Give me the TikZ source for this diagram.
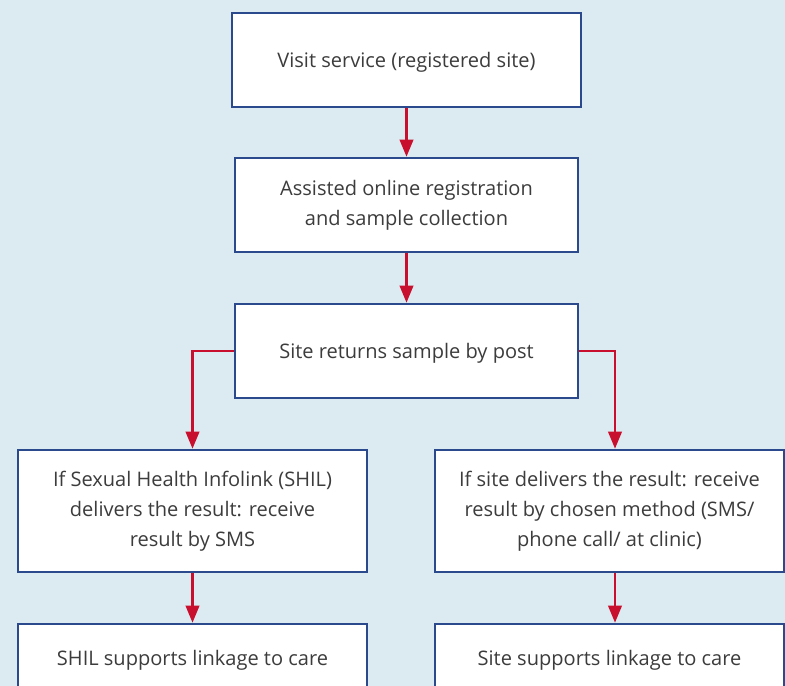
\documentclass[tikz,border=0pt]{standalone}
\usepackage{fontspec}
\setmainfont{Open Sans}
\usetikzlibrary{arrows.meta}

\definecolor{sfondo}{HTML}{DCEAF2}
\definecolor{bordo}{HTML}{2B4A8E}
\definecolor{freccia}{HTML}{C8102E}
\definecolor{testo}{HTML}{3C3C3C}

\tikzset{
  passo/.style={draw=bordo, line width=1.5pt, fill=white, text=testo,
    minimum width=6.98cm, minimum height=1.88cm, align=center,
    font=\fontsize{11.4}{17}\selectfont, inner sep=0pt},
  riga/.style={text height=11.6pt, text depth=3pt},
  freccia/.style={draw=freccia, line width=1.3pt,
    -{Triangle[width=0.27cm,length=0.34cm]}}
}

\begin{document}
\begin{tikzpicture}

        % Sfondo
        \useasboundingbox (0, 0) rectangle (15.7, -13.72);
        \clip (0, 0) rectangle (15.7, -13.72);
        \fill[sfondo] (0, 0) rectangle (15.7, -13.72);

        % Box centrali
        \node[passo, riga] (visit) at (8.13, -1.20) {Visit service (registered site)};
        \node[passo, minimum width=6.86cm] (assist) at (8.13, -4.10) {Assisted online registration\\and sample collection};
        \node[passo, riga, minimum width=6.86cm] (returns) at (8.13, -7.02) {Site returns sample by post};

        % Box risultati
        \node[passo, minimum height=2.44cm] (shil) at (3.85, -10.22) {If Sexual Health Infolink (SHIL)\\delivers the result: receive\\result by SMS};
        \node[passo, minimum height=2.44cm] (siteres) at (12.19, -10.22) {If site delivers the result: receive\\result by chosen method (SMS/\\phone call/ at clinic)};

        % Box finali (tagliati in basso)
        \node[passo, riga, minimum height=1.36cm] (shilcare) at (3.85, -13.16) {SHIL supports linkage to care};
        \node[passo, riga, minimum height=1.36cm] (sitecare) at (12.19, -13.16) {Site supports linkage to care};

        % Frecce
        \draw[freccia] (visit) -- (assist);
        \draw[freccia] (assist) -- (returns);
        \draw[freccia] (returns.west) -| (shil.north);
        \draw[freccia] (returns.east) -| ([xshift=0.11cm]siteres.north);
        \draw[freccia] (shil) -- (shilcare);
        \draw[freccia] ([xshift=0.11cm]siteres.south) -- ([xshift=0.11cm]sitecare.north);

\end{tikzpicture}
\end{document}
